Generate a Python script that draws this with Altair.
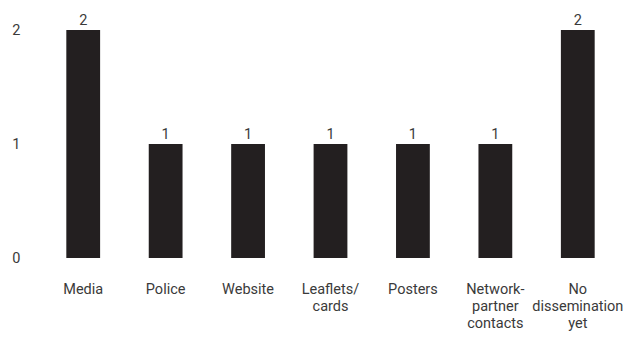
import altair as alt
import pandas as pd

categories = ["Media", "Police", "Website", "Leaflets/|cards", "Posters",
              "Network-|partner|contacts", "No|dissemination|yet"]
values = [2, 1, 1, 1, 1, 1, 2]
y_ticks = [0, 1, 2]

df = pd.DataFrame({"cat": categories, "val": values})

font = "Roboto"
txt = "#3a3a3a"
fs = 14.5

x = alt.X("cat:N", sort=categories, title=None,
          scale=alt.Scale(paddingInner=0.59, paddingOuter=0.295),
          axis=alt.Axis(labelExpr="split(datum.value, '|')", labelAngle=0,
                        domain=False, ticks=False, labelPadding=24,
                        labelFont=font, labelFontSize=fs, labelColor=txt,
                        labelLineHeight=17, labelBaseline="top",
                        labelOverlap=False))
y = alt.Y("val:Q", title=None,
          scale=alt.Scale(domain=[0, 2], nice=False),
          axis=alt.Axis(values=y_ticks, format=".0f", domain=False,
                        ticks=False, grid=False, labelPadding=22,
                        labelFont=font, labelFontSize=fs, labelColor=txt,
                        labelFlush=False, labelBound=False))

bars = alt.Chart(df).mark_bar(color="#231f20").encode(x=x, y=y)
labels = alt.Chart(df).mark_text(dy=-5, baseline="alphabetic", font=font,
                                 fontSize=fs, color=txt).encode(
    x=x, y=y, text="val:Q")

chart = (bars + labels).properties(
    width=577, height=228,
    autosize=alt.AutoSizeParams(type="none"),
    padding={"left": 42, "top": 30, "right": 5, "bottom": 79},
).configure_view(stroke=None)

chart.save("out.html", embed_options={"renderer": "svg", "actions": False})
